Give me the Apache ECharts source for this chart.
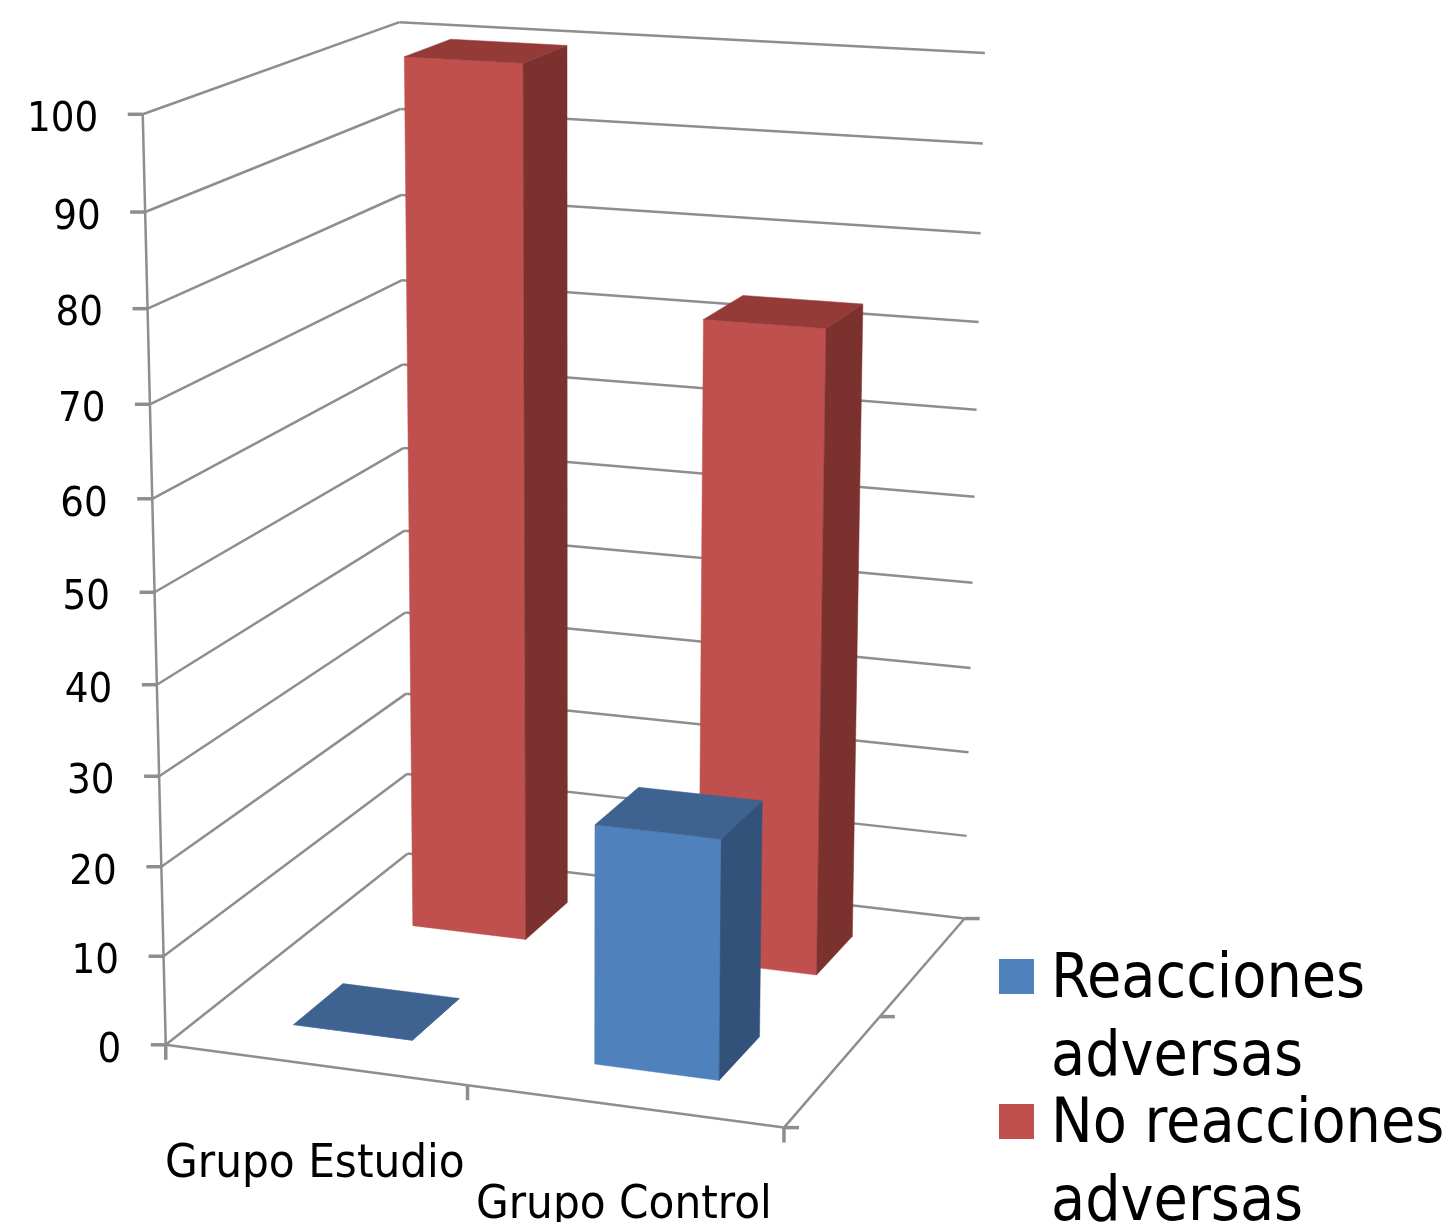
<!DOCTYPE html>
<html><head><meta charset="utf-8">
<style>html,body{margin:0;padding:0;background:#fff}#c{width:1448px;height:1222px}</style>
<script src="https://cdn.jsdelivr.net/npm/echarts@6/dist/echarts.min.js"></script>
</head><body><div id="c"></div>
<script>
const categories = ['Grupo Estudio', 'Grupo Control'];
const valueTicks = [0, 10, 20, 30, 40, 50, 60, 70, 80, 90, 100];
const reacciones = [0, 26.5];
const noReacciones = [100, 73.3];
const depthTicks = [0, 0.5, 1];

const FONT = '"DejaVu Sans Condensed","DejaVu Sans",sans-serif';
const AXIS = '#8e8e8e';
const SCALE = 1000;

// Perspective camera of the 3-D box: (u along categories, v depth, w value share) -> pixel.
const anchors = [
  [0, 0, 0, 166, 1045], [0, 1, 0, 408, 854], [1, 0, 0, 784, 1128], [1, 1, 0, 964, 918],
  [0, 0, 1, 143, 115], [0, 1, 1, 399, 22], [1, 1, 1, 985, 53],
  [0, 0, 0.5, 154, 591], [1, 1, 0.5, 975, 497], [0, 1, 0.5, 404, 448]
];
function solveCamera() {
  const A = [], b = [];
  anchors.forEach(([u, v, w, px, py]) => {
    const X = px / 1000, Y = py / 1000;
    A.push([u, v, w, 1, 0, 0, 0, 0, -X * u, -X * v, -X * w]); b.push(X);
    A.push([0, 0, 0, 0, u, v, w, 1, -Y * u, -Y * v, -Y * w]); b.push(Y);
  });
  const n = 11, M = [];
  for (let i = 0; i < n; i++) {
    M.push([]);
    for (let j = 0; j < n; j++) M[i].push(A.reduce((s, r) => s + r[i] * r[j], 0));
    M[i].push(A.reduce((s, r, k) => s + r[i] * b[k], 0));
  }
  for (let c = 0; c < n; c++) {
    let p = c;
    for (let r = c + 1; r < n; r++) if (Math.abs(M[r][c]) > Math.abs(M[p][c])) p = r;
    [M[c], M[p]] = [M[p], M[c]];
    for (let r = 0; r < n; r++) if (r !== c) {
      const f = M[r][c] / M[c][c];
      for (let k = c; k <= n; k++) M[r][k] -= f * M[c][k];
    }
  }
  return M.map((r, i) => r[n] / r[i]);
}
const P = solveCamera();
function project(u, v, w) {
  const d = P[8] * u + P[9] * v + P[10] * w + 1;
  return [1000 * (P[0] * u + P[1] * v + P[2] * w + P[3]) / d, 1000 * (P[4] * u + P[5] * v + P[6] * w + P[7]) / d];
}
const line = (a, b, width) => ({ type: 'line', shape: { x1: a[0], y1: a[1], x2: b[0], y2: b[1] },
  style: { stroke: AXIS, lineWidth: width || 2.5, fill: null } });
const poly = (pts, fill) => ({ type: 'polygon', shape: { points: pts }, style: { fill: fill, stroke: fill, lineWidth: 0.5 } });

function barSeries(name, values, vCentre, colors) {
  return {
    name: name, type: 'custom', coordinateSystem: 'cartesian2d', silent: true, z: vCentre < 0.5 ? 4 : 3,
    itemStyle: { color: colors[0] },
    data: values.map((v, i) => [i, v]),
    renderItem(params, api) {
      const c = api.coord([api.value(0), api.value(1)]);
      const uc = c[0] / SCALE, w = 1 - c[1] / SCALE;
      const halfU = api.size([1, 0])[0] / SCALE * 0.2, halfV = 0.1;
      const u0 = uc - halfU, u1 = uc + halfU, v0 = vCentre - halfV, v1 = vCentre + halfV;
      return { type: 'group', children: [
        poly([project(u0, v0, 0), project(u1, v0, 0), project(u1, v0, w), project(u0, v0, w)], colors[0]),
        poly([project(u1, v0, 0), project(u1, v1, 0), project(u1, v1, w), project(u1, v0, w)], colors[2]),
        poly([project(u0, v0, w), project(u1, v0, w), project(u1, v1, w), project(u0, v1, w)], colors[1])
      ] };
    }
  };
}
const legendFor = (name, top) => ({
  left: 999, top: top, orient: 'vertical', padding: 0, itemWidth: 47, itemHeight: 156, selectedMode: false,
  icon: 'path://M0,0L0,0M47,156L47,156M0,17H35V52H0Z',
  itemStyle: { borderWidth: 0 },
  data: [name],
  formatter: n => n.replace(' adversas', '\nadversas'),
  textStyle: { fontFamily: FONT, fontSize: 62, lineHeight: 78, color: '#000' }
});

const option = {
  animation: false,
  backgroundColor: '#fff',
  grid: { left: 0, top: 0, width: SCALE, height: SCALE, containLabel: false },
  xAxis: { type: 'category', data: categories, show: false },
  yAxis: { type: 'value', min: 0, max: 100, interval: 10, show: false },
  legend: [legendFor('Reacciones adversas', 942), legendFor('No reacciones adversas', 1087)],
  series: [
    { name: 'grid', type: 'custom', coordinateSystem: 'cartesian2d', silent: true, z: 1,
      data: valueTicks.map(v => [0, v]),
      renderItem(params, api) {
        const val = api.value(1);
        const w = 1 - api.coord([0, val])[1] / SCALE;
        const a = project(0, 0, w), b = project(0, 1, w), c = project(1, 1, w);
        return { type: 'group', children: [
          line(a, b), line(b, c), line(a, [a[0] - 15, a[1]], 3.5),
          { type: 'text', x: a[0] - 44.5, y: a[1] + 6,
            style: { text: String(val), align: 'right', verticalAlign: 'middle', fontFamily: FONT, fontSize: 41.5, fill: '#000' } }
        ] };
      }
    },
    { name: 'axes', type: 'custom', coordinateSystem: 'cartesian2d', silent: true, z: 2,
      data: categories.map((c, i) => [i, 0]),
      renderItem(params, api) {
        const i = api.value(0);
        const c = api.coord([i, 0]);
        const uc = c[0] / SCALE, half = api.size([1, 0])[0] / SCALE / 2;
        const mid = project(uc, 0, 0), r = project(uc + half, 0, 0), l = project(uc - half, 0, 0);
        const kids = [
          line(l, r), line([r[0], r[1]], [r[0], r[1] + 15], 3.5),
          { type: 'text', x: mid[0], y: mid[1] + 100,
            style: { text: categories[i], align: 'center', verticalAlign: 'middle', fontFamily: FONT, fontSize: 47, fill: '#000' } }
        ];
        if (i === 0) {
          kids.push(line(l, [l[0], l[1] + 15], 3.5), line(project(0, 0, 0), project(0, 0, 1)));
          kids.push(line(project(1, 0, 0), project(1, 1, 0)));
          depthTicks.forEach(d => { const t = project(1, d, 0); kids.push(line(t, [t[0] + 15, t[1]], 3.5)); });
        }
        return { type: 'group', children: kids };
      }
    },
    barSeries('No reacciones adversas', noReacciones, 0.75, ['#C0504D', '#943B38', '#7B322F']),
    barSeries('Reacciones adversas', reacciones, 0.25, ['#4F81BD', '#3E6390', '#32527A'])
  ]
};
echarts.init(document.getElementById('c'), null, { renderer: 'canvas' }).setOption(option);
</script></body></html>
